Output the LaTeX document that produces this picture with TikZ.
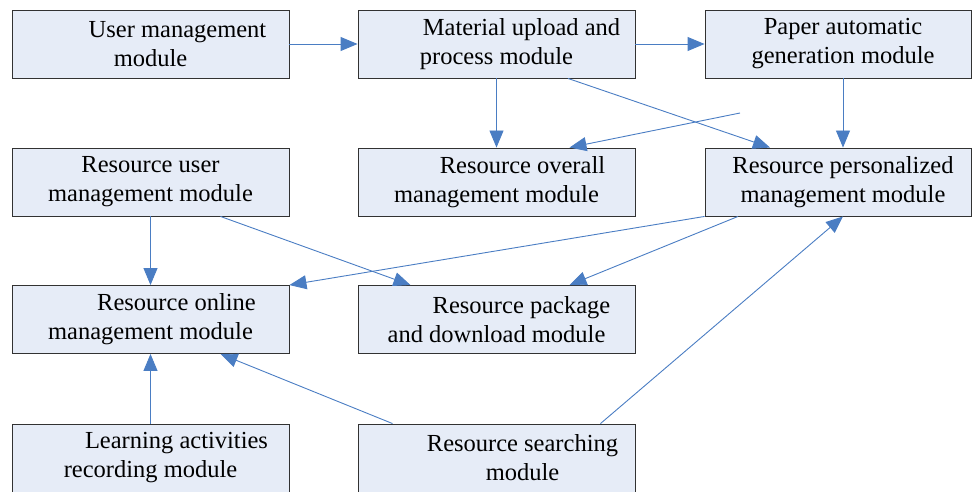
\documentclass[tikz,border=0pt]{standalone}
\usepackage{fontspec}
\setmainfont{Liberation Serif}
\usetikzlibrary{arrows.meta}
\definecolor{boxfill}{RGB}{230,236,247}
\definecolor{boxline}{RGB}{50,50,50}
\definecolor{arr}{RGB}{74,125,195}
\begin{document}
\begin{tikzpicture}[x=1pt,y=-1pt,
  box/.style={draw=boxline,line width=0.9pt,fill=boxfill,minimum width=277pt,minimum height=68pt,
    inner sep=0pt,align=center,font=\rmfamily\fontsize{24.5}{29}\selectfont},
  wbox/.style={box,minimum width=266pt},
  conn/.style={draw=arr,line width=0.9pt,-{Triangle[length=17pt,width=14pt]}}]
\useasboundingbox (0,0) rectangle (972,492);
\node[box] (A) at (150.5,44) {\hspace*{54pt}User management\\module};
\node[box] (B) at (496.5,44) {\hspace*{50pt}Material upload and\\process module};
\node[wbox] (C) at (838,44) {\hspace*{10pt}Paper automatic\\\hspace*{10pt}generation module};
\node[box] (D) at (150.5,182) {Resource user\\management module};
\node[box] (E) at (496.5,182) {\hspace*{52pt}Resource overall\\management module};
\node[wbox] (F) at (838,182) {\hspace*{10pt}Resource personalized\\\hspace*{10pt}management module};
\node[box] (G) at (150.5,319.5) {\hspace*{52pt}Resource online\\management module};
\node[box] (H) at (496.5,319.5) {\hspace*{50pt}Resource package\\and download module};
\node[box] (I) at (150.5,458) {\hspace*{52pt}Learning activities\\recording module};
\node[box] (J) at (496.5,458) {\hspace*{52pt}Resource searching\\\hspace*{52pt}module};
\coordinate (free) at (740,113);
\draw[conn] (A.east) -- (B.west);
\draw[conn] (B.east) -- (C.west);
\draw[conn] (B.south) -- (E.north);
\draw[conn] ([xshift=71.5pt]B.south) -- ([xshift=-68pt]F.north);
\draw[conn] (free) -- ([xshift=73pt]E.north);
\draw[conn] ([xshift=5pt]C.south) -- ([xshift=5pt]F.north);
\draw[conn] (D.south) -- (G.north);
\draw[conn] ([xshift=70pt]D.south) -- ([xshift=-86pt]H.north);
\draw[conn] (F.south west) -- (G.north east);
\draw[conn] ([xshift=-100pt]F.south) -- ([xshift=73pt]H.north);
\draw[conn] ([xshift=104pt]J.north) -- ([xshift=5pt]F.south);
\draw[conn] ([xshift=-104pt]J.north) -- ([xshift=70pt]G.south);
\draw[conn] (I.north) -- (G.south);
\end{tikzpicture}
\end{document}
